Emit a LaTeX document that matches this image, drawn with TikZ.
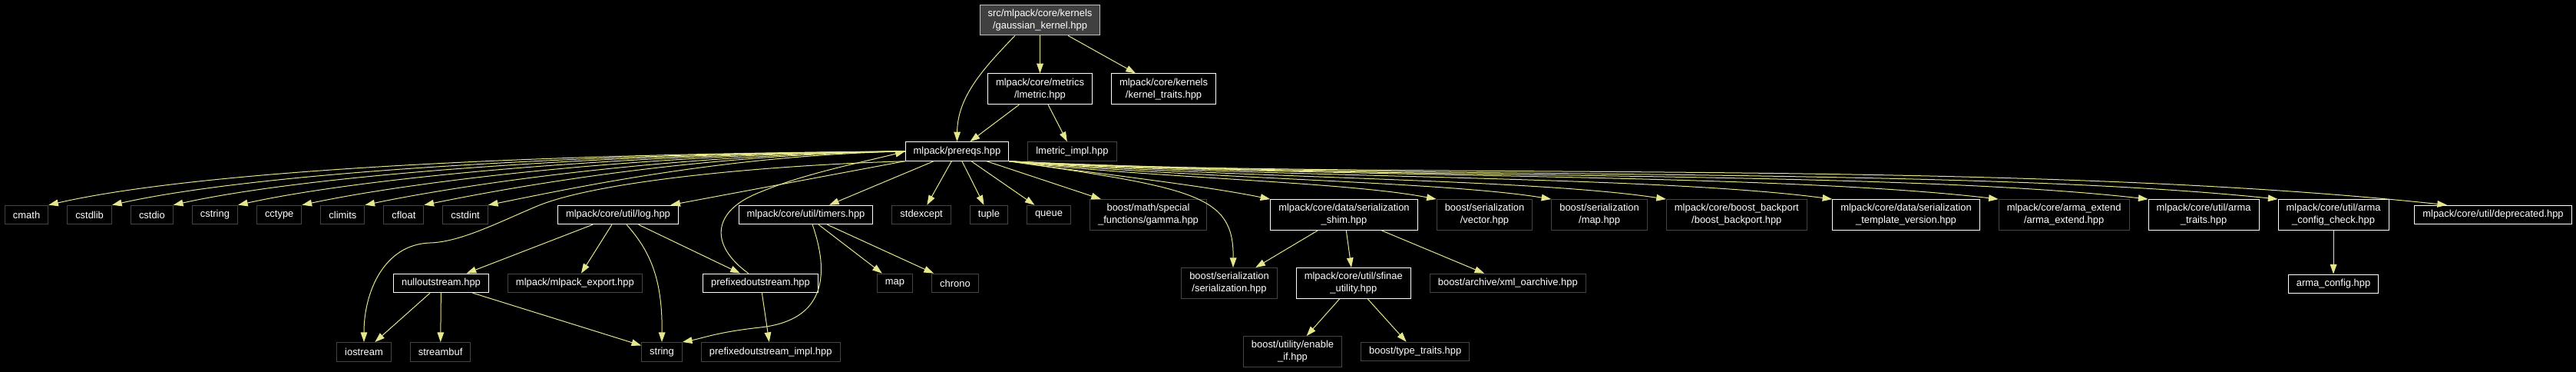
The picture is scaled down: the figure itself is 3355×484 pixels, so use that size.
\documentclass[tikz,border=0pt]{standalone}
\usepackage{fontspec}
\setmainfont{Liberation Sans}
\usetikzlibrary{arrows.meta,positioning}
\definecolor{edgeyellow}{RGB}{230,230,140}
\definecolor{extgray}{RGB}{68,68,68}
\definecolor{rootfill}{RGB}{64,64,64}
\definecolor{rootline}{RGB}{191,191,191}

\begin{document}
\begin{tikzpicture}[x=0.75pt, y=-0.75pt,
  file/.style={align=center, text=white, font=\fontsize{9.7}{12}\selectfont, inner xsep=7.9pt, inner ysep=4.4pt, minimum height=18.4pt, line width=0.75pt, fill=black},
  doc/.style={file, draw=white},
  ext/.style={file, draw=extgray},
  root/.style={file, fill=rootfill, draw=rootline},
  inc/.style={-{Triangle[length=9.5pt,width=6.5pt]}, draw=edgeyellow, line width=0.75pt}
]
\path[fill=black, use as bounding box] (0,0) rectangle (3355,484);

\node[root] (gaussian) at (1354.5,26) {src/mlpack/core/kernels\\/gaussian\_kernel.hpp};
\node[doc, below=36.75pt of gaussian] (lmetric) {mlpack/core/metrics\\/lmetric.hpp};
\node[doc, right=18pt of lmetric] (kerneltraits) {mlpack/core/kernels\\/kernel\_traits.hpp};
\node[doc] (prereqs) at (1246.5,197) {mlpack/prereqs.hpp};
\node[ext, right=18pt of prereqs] (lmetricimpl) {lmetric\_impl.hpp};

\node[ext] (cmath) at (34.6,279.5) {cmath};
\node[ext, right=18pt of cmath] (cstdlib) {cstdlib};
\node[ext, right=18pt of cstdlib] (cstdio) {cstdio};
\node[ext, right=18pt of cstdio] (cstring) {cstring};
\node[ext, right=18pt of cstring] (cctype) {cctype};
\node[ext, right=18pt of cctype] (climits) {climits};
\node[ext, right=18pt of climits] (cfloat) {cfloat};
\node[ext, right=18pt of cfloat] (cstdint) {cstdint};
\node[doc] (log) at (805,279.5) {mlpack/core/util/log.hpp};
\node[doc] (timers) at (1049.5,279.5) {mlpack/core/util/timers.hpp};
\node[ext, right=18pt of timers] (stdexcept) {stdexcept};
\node[ext, right=18pt of stdexcept] (tuple) {tuple};
\node[ext, right=18pt of tuple] (queue) {queue};
\node[ext, right=18pt of queue] (gamma) {boost/math/special\\\_functions/gamma.hpp};
\node[doc] (shim) at (1750.5,279.5) {mlpack/core/data/serialization\\\_shim.hpp};
\node[ext, right=18pt of shim] (vector) {boost/serialization\\/vector.hpp};
\node[ext, right=18pt of vector] (maphpp) {boost/serialization\\/map.hpp};
\node[ext, right=18pt of maphpp] (backport) {mlpack/core/boost\_backport\\/boost\_backport.hpp};
\node[doc] (tmplver) at (2482.5,279.5) {mlpack/core/data/serialization\\\_template\_version.hpp};
\node[ext, right=18pt of tmplver] (armaext) {mlpack/core/arma\_extend\\/arma\_extend.hpp};
\node[doc, right=18pt of armaext] (armatraits) {mlpack/core/util/arma\\\_traits.hpp};
\node[doc, right=18pt of armatraits] (cfgcheck) {mlpack/core/util/arma\\\_config\_check.hpp};
\node[doc] (deprecated) at (3247,279.5) {mlpack/core/util/deprecated.hpp};

\node[doc] (nullout) at (574.5,368.4) {nulloutstream.hpp};
\node[ext, right=18pt of nullout] (mlexport) {mlpack/mlpack\_export.hpp};
\node[doc] (prefixout) at (990.5,368.4) {prefixedoutstream.hpp};
\node[ext] (map) at (1165.5,368.4) {map};
\node[ext, right=18pt of map] (chrono) {chrono};
\node[ext] (serial) at (1601,368.5) {boost/serialization\\/serialization.hpp};
\node[doc, right=18pt of serial] (sfinae) {mlpack/core/util/sfinae\\\_utility.hpp};
\node[ext, right=18pt of sfinae] (xmlarch) {boost/archive/xml\_oarchive.hpp};
\node[doc, below=42.5pt of cfgcheck] (armacfg) {arma\_config.hpp};

\node[ext] (iostream) at (474,457.8) {iostream};
\node[ext, right=18pt of iostream] (streambuf) {streambuf};
\node[ext] (string) at (862,457.8) {string};
\node[ext, right=18pt of string] (prefiximpl) {prefixedoutstream\_impl.hpp};
\node[ext] (enableif) at (1683.5,457.5) {boost/utility/enable\\\_if.hpp};
\node[ext, right=18pt of enableif] (typetraits) {boost/type\_traits.hpp};

\draw[inc] (gaussian.-148) .. controls (1282,88) and (1247,125) .. (prereqs.north);
\draw[inc] (gaussian) -- (lmetric);
\draw[inc] (gaussian) -- (kerneltraits);
\draw[inc] (lmetric) -- (prereqs);
\draw[inc] (lmetric) -- (lmetricimpl);

\draw[inc] (prereqs.west) .. controls (677,200) and (254,223) .. (cmath.north east);
\draw[inc] (prereqs.west) .. controls (715,200) and (324,227) .. (cstdlib.north east);
\draw[inc] (prereqs.west) .. controls (752,200) and (391,230) .. (cstdio.north east);
\draw[inc] (prereqs.west) .. controls (791,200) and (463,233) .. (cstring.north east);
\draw[inc] (prereqs.west) .. controls (829,200) and (533,237) .. (cctype.north east);
\draw[inc] (prereqs.west) .. controls (867,201) and (604,240) .. (climits.north east);
\draw[inc] (prereqs.west) .. controls (903,201) and (669,243) .. (cfloat.north east);
\draw[inc] (prereqs.west) .. controls (941,202) and (740,246) .. (cstdint.north east);
\draw[inc] (prereqs.south west) .. controls (1000,215) and (780,235) .. (700,268) .. controls (652,288) and (600,315) .. (560,316) .. controls (500,318) and (474,380) .. (iostream.north);
\draw[inc] (prereqs) -- (log);
\draw[inc] (prereqs) -- (timers);
\draw[inc] (prereqs) -- (stdexcept);
\draw[inc] (prereqs) -- (tuple);
\draw[inc] (prereqs) -- (queue);
\draw[inc] (prereqs) -- (gamma);
\draw[inc] (prereqs.south east) .. controls (1560,245) and (1607,255) .. ([xshift=3.75pt]serial.north);
\draw[inc] (prereqs.south east) .. controls (1420,225) and (1560,240) .. (shim.north west);
\draw[inc] (prereqs.south east) .. controls (1500,232) and (1750,236) .. (vector.north west);
\draw[inc] (prereqs.south east) .. controls (1550,232) and (1880,236) .. (maphpp.north west);
\draw[inc] (prereqs.south east) .. controls (1600,232) and (1990,232) .. (backport.north west);
\draw[inc] (prereqs.south east) .. controls (1650,232) and (2150,228) .. (tmplver.north west);
\draw[inc] (prereqs.south east) .. controls (1700,232) and (2300,224) .. (armaext.north west);
\draw[inc] (prereqs.south east) .. controls (1750,234) and (2450,220) .. (armatraits.north west);
\draw[inc] (prereqs.south east) .. controls (1800,234) and (2550,216) .. (cfgcheck.north west);
\draw[inc] (prereqs.south east) .. controls (1800,235) and (2600,205) .. ([xshift=32pt]deprecated.north west);

\draw[inc] (log) -- (nullout);
\draw[inc] (log) -- (mlexport);
\draw[inc] (log.-49) .. controls (845,325) and (863,360) .. (string.north);
\draw[inc] (log) -- (prefixout);
\draw[inc] (nullout) -- (iostream);
\draw[inc] (nullout) -- (streambuf);
\draw[inc] (nullout) -- (string);
\draw[inc] (prefixout) -- (prefiximpl);
\draw[inc] (prefixout.141) .. controls (925,320) and (925,275) .. (990,250) .. controls (1050,225) and (1120,212) .. (prereqs.west);
\draw[inc] (timers) -- (map);
\draw[inc] (timers) -- (chrono);
\draw[inc] (timers.-56) .. controls (1085,370) and (1065,418) .. (990,426) .. controls (935,432) and (915,440) .. (string.north east);

\draw[inc] (shim) -- (serial);
\draw[inc] (shim) -- (sfinae);
\draw[inc] (shim) -- (xmlarch);
\draw[inc] (sfinae) -- (enableif);
\draw[inc] (sfinae) -- (typetraits);
\draw[inc] (cfgcheck) -- (armacfg);
\end{tikzpicture}
\end{document}
